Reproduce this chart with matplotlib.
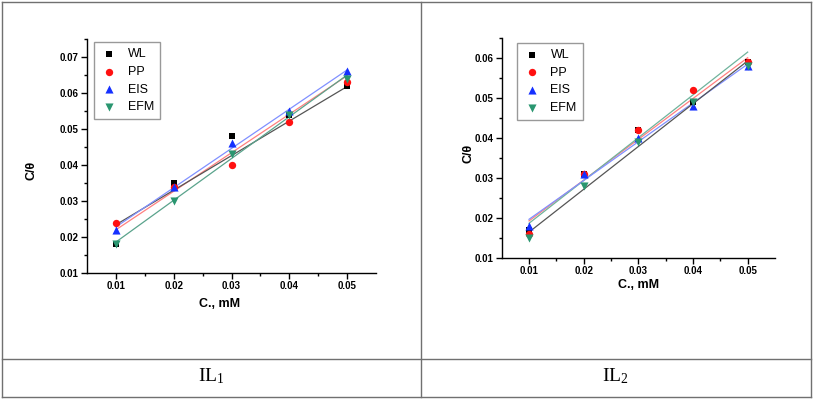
import numpy as np
import matplotlib
matplotlib.use('Agg')
import matplotlib.pyplot as plt
from matplotlib.lines import Line2D

plt.rcParams['font.family'] = ['Liberation Sans', 'DejaVu Sans']
plt.rcParams['mathtext.fontset'] = 'custom'
plt.rcParams['mathtext.rm'] = 'Liberation Serif'
plt.rcParams['mathtext.it'] = 'Liberation Serif'

conc = [0.01, 0.02, 0.03, 0.04, 0.05]
methods = ['WL', 'PP', 'EIS', 'EFM']

# IL1
il1_wl = [0.018, 0.035, 0.048, 0.054, 0.062]
il1_pp = [0.024, 0.034, 0.040, 0.052, 0.063]
il1_eis = [0.022, 0.034, 0.046, 0.055, 0.066]
il1_efm = [0.018, 0.030, 0.043, 0.054, 0.064]

# IL2
il2_wl = [0.017, 0.031, 0.042, 0.049, 0.059]
il2_pp = [0.016, 0.031, 0.042, 0.052, 0.059]
il2_eis = [0.018, 0.031, 0.040, 0.048, 0.058]
il2_efm = [0.015, 0.028, 0.039, 0.049, 0.058]

panel_labels = [r'IL$_1$', r'IL$_2$']

markers = ['s', 'o', '^', 'v']
msizes = [20, 28, 34, 34]
mcolors = ['black', '#ff1010', '#1530ff', '#2a9670']
# fit line colours as they appear in each panel
fit_cols1 = ['#ff8080', '#555555', '#8090ff', '#5aa38c']
fit_cols2 = ['#ff8080', '#6fb39c', '#8090ff', '#555555']

fig = plt.figure(figsize=(8.13, 4.0), dpi=100)

# table frame
lc = '#707070'
for xs, ys in [([2/813, 811/813], [398/400, 398/400]),
               ([2/813, 811/813], [3/400, 3/400]),
               ([2/813, 2/813], [3/400, 398/400]),
               ([811/813, 811/813], [3/400, 398/400]),
               ([421/813, 421/813], [3/400, 398/400]),
               ([2/813, 811/813], [(400-359)/400, (400-359)/400])]:
    fig.add_artist(Line2D(xs, ys, color=lc, lw=1.0))

ax1 = fig.add_axes([87/813, 127/400, 289/813, 234/400])
ax2 = fig.add_axes([501.7/813, 142.3/400, 273.3/813, 220/400])


def draw(ax, series, fit_cols, ylim, yticks, leg_anchor, ylab_xy, xlab_xy):
    for vals, fc in zip(series, fit_cols):
        k, b = np.polyfit(conc, vals, 1)
        xx = np.array([conc[0], conc[-1]])
        ax.plot(xx, k * xx + b, color=fc, lw=0.9, zorder=2)
    for vals, name, m, ms, c in zip(series, methods, markers, msizes, mcolors):
        ax.scatter(conc, vals, marker=m, color=c, s=ms, label=name, zorder=3, linewidths=0)
    ax.set_xlim(0.005, 0.055)
    ax.set_ylim(*ylim)
    ax.set_xticks(conc)
    ax.set_xticks([0.015, 0.025, 0.035, 0.045], minor=True)
    ax.set_yticks(yticks)
    ax.set_yticks([y + 0.005 for y in yticks], minor=True)
    ax.set_xticklabels(['%.2f' % v for v in conc])
    ax.set_yticklabels(['%.2f' % v for v in yticks])
    for s in ['top', 'right']:
        ax.spines[s].set_visible(False)
    for s in ['left', 'bottom']:
        ax.spines[s].set_linewidth(1.0)
    ax.tick_params(which='major', direction='out', length=4, width=1.0, labelsize=7, pad=2)
    ax.tick_params(which='minor', direction='out', length=2.5, width=1.0)
    for t in ax.get_xticklabels() + ax.get_yticklabels():
        t.set_fontweight('bold')
    ax.set_xlabel('C., mM', fontsize=9, fontweight='bold')
    ax.set_ylabel('C/θ', fontsize=9, fontweight='bold')
    ax.xaxis.set_label_coords(*xlab_xy)
    ax.yaxis.set_label_coords(*ylab_xy)
    leg = ax.legend(loc='upper left', bbox_to_anchor=leg_anchor, borderaxespad=0,
                    fontsize=9, frameon=True, fancybox=False, handletextpad=0.8,
                    labelspacing=0.45, borderpad=0.5, handlelength=1.4,
                    scatterpoints=1)
    leg.get_frame().set_edgecolor('#808080')
    leg.get_frame().set_linewidth(1.0)


draw(ax1, [il1_wl, il1_pp, il1_eis, il1_efm], fit_cols1, (0.01, 0.075),
     [0.01, 0.02, 0.03, 0.04, 0.05, 0.06, 0.07], (0.024, 0.987),
     (-0.17, 0.44), (0.46, -0.107))
draw(ax2, [il2_wl, il2_pp, il2_eis, il2_efm], fit_cols2, (0.01, 0.065),
     [0.01, 0.02, 0.03, 0.04, 0.05, 0.06], (0.055, 0.977),
     (-0.10, 0.476), (0.50, -0.097))

fig.text(211/813, (400-376)/400, panel_labels[0], fontsize=14, ha='center', va='center',
         family='Liberation Serif')
fig.text(615/813, (400-376)/400, panel_labels[1], fontsize=14, ha='center', va='center',
         family='Liberation Serif')

fig.savefig('out.png', dpi=100)
